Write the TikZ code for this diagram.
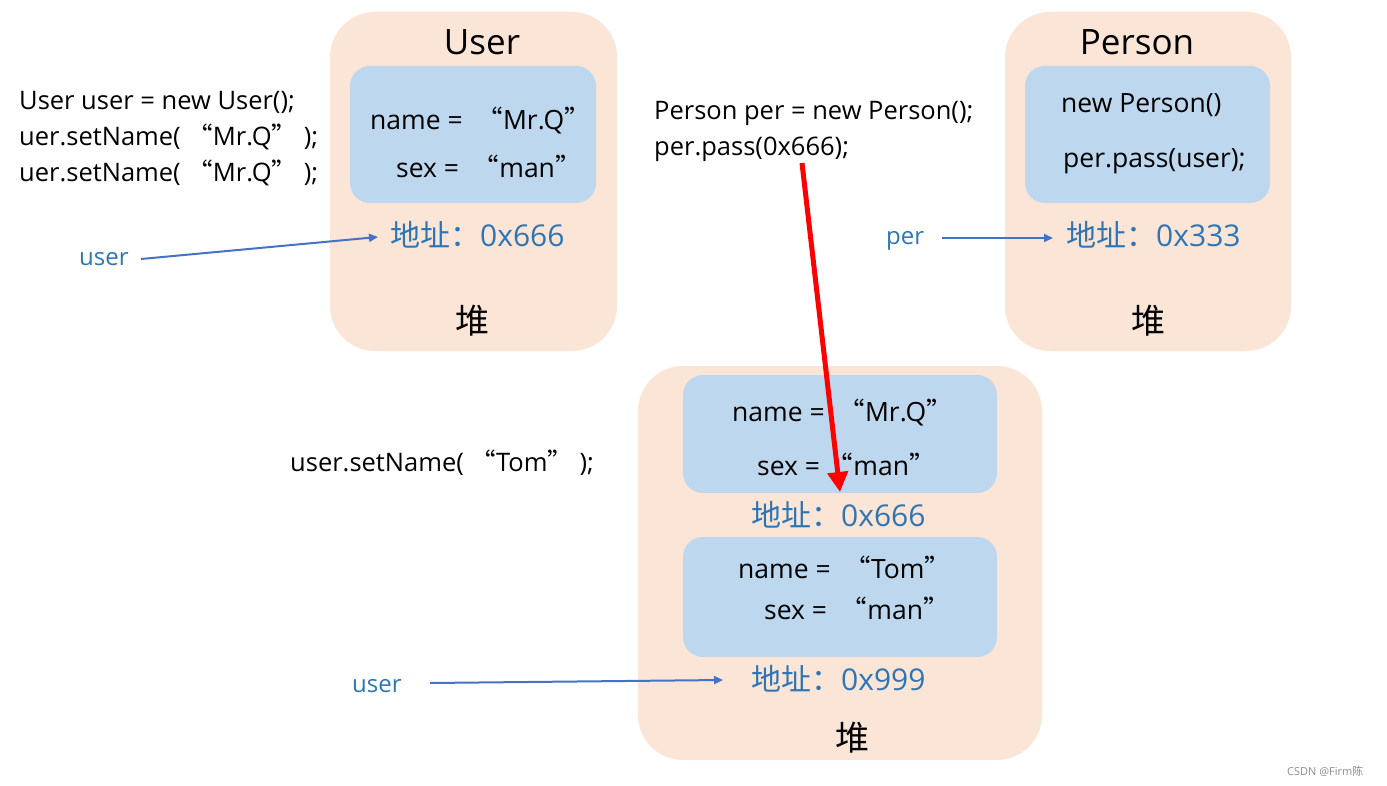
\documentclass[tikz,border=0pt]{standalone}
\usepackage{fontspec}
\setmainfont{Open Sans}
\newfontfamily\cjk{Noto Sans CJK SC}
\usetikzlibrary{arrows.meta}
\definecolor{peach}{HTML}{FBE5D6}
\definecolor{objblue}{HTML}{BDD7EE}
\definecolor{addrblue}{HTML}{2E75B6}
\definecolor{arrblue}{HTML}{4472C4}
\definecolor{wmgrey}{HTML}{8C8C8C}
\newcommand{\myqo}{{\cjk “}}
\newcommand{\myqc}{{\cjk ”}}
\begin{document}
\begin{tikzpicture}[x=1pt,y=-1pt,
  heap/.style={fill=peach, draw=none, rounded corners=45pt, inner sep=0pt},
  obj/.style={fill=objblue, draw=none, rounded corners=20pt, inner sep=0pt},
  code/.style={anchor=base west, inner sep=0pt, font=\fontsize{25.5}{30}\selectfont},
  field/.style={anchor=base west, inner sep=0pt, font=\fontsize{26.5}{32}\selectfont},
  title/.style={anchor=base, inner sep=0pt, font=\fontsize{35}{42}\selectfont},
  addr/.style={anchor=base west, inner sep=0pt, text=addrblue, font=\fontsize{30}{36}\selectfont},
  heaplbl/.style={anchor=base, inner sep=0pt, font=\cjk\fontsize{34}{40}\selectfont},
  var/.style={anchor=base west, inner sep=0pt, text=addrblue, font=\fontsize{24}{28}\selectfont},
  barrow/.style={draw=arrblue, line width=2pt, -{Triangle[length=9pt,width=8pt]}},
  rarrow/.style={draw=red, line width=5pt, -{Triangle[length=20pt,width=20pt]}}
]
\useasboundingbox (0,0) rectangle (1387,786);

% heaps
\node[heap, minimum width=287pt, minimum height=339pt] (uheap) at (473.5,181.5) {};
\node[heap, minimum width=286pt, minimum height=339pt] (pheap) at (1148,181.5) {};
\node[heap, minimum width=404pt, minimum height=394pt] (bheap) at (840,563) {};

% objects
\node[obj, minimum width=246pt, minimum height=137pt] (uobj) at (473,134.5) {};
\node[obj, minimum width=245pt, minimum height=137pt] (pobj) at (1147.5,134.5) {};
\node[obj, minimum width=314pt, minimum height=118pt] (bobj1) at (840,434) {};
\node[obj, minimum width=314pt, minimum height=120pt] (bobj2) at (840,597) {};

% User heap content
\node[title] (utitle) at (482,55) {User};
\node[field] (uname) at (370,130) {name =\ \ \myqo Mr.Q\myqc};
\node[field] (usex) at (396,178) {sex =\ \ \myqo man\myqc};
\node[addr] (uaddr) at (390,247) {{\cjk 地址：}0x666};
\node[heaplbl] (uheapl) at (472,334) {堆};

% Person heap content
\node[title] (ptitle) at (1137,55) {Person};
\node[field] (pnew) at (1061,113) {new Person()};
\node[field] (ppass) at (1063,168) {per.pass(user);};
\node[addr] (paddr) at (1066,247) {{\cjk 地址：}0x333};
\node[heaplbl] (pheapl) at (1148,334) {堆};

% bottom heap content
\node[field] (bname1) at (732,421) {name =\ \ \myqo Mr.Q\myqc};
\node[field] (bsex1) at (757,475) {sex =\ \myqo man\myqc};
\node[addr] (baddr1) at (751,526) {{\cjk 地址：}0x666};
\node[field] (bname2) at (738,578) {name =\ \ \myqo Tom\myqc};
\node[field] (bsex2) at (764,619) {sex =\ \ \myqo man\myqc};
\node[addr] (baddr2) at (751,690) {{\cjk 地址：}0x999};
\node[heaplbl] (bheapl) at (852,750) {堆};

% code
\node[code] (c1) at (19,110) {User user = new User();};
\node[code] (c2) at (19,146) {uer.setName( \myqo Mr.Q\myqc\ );};
\node[code] (c3) at (19,182) {uer.setName( \myqo Mr.Q\myqc\ );};
\node[code] (pc1) at (654,120) {Person per = new Person();};
\node[code] (pc2) at (654,156) {per.pass(0x666);};
\node[code] (tc) at (290,471) {user.setName( \myqo Tom\myqc\ );};

% variables
\node[var] (vuser1) at (79,266) {user};
\node[var] (vper) at (886,245) {per};
\node[var] (vuser2) at (352,692) {user};

% arrows
\coordinate (a1s) at (141,259);
\coordinate (a1e) at (378,237);
\coordinate (a2s) at (942,238);
\coordinate (a2e) at (1053,238);
\coordinate (a3s) at (430,683);
\coordinate (a3e) at (723,680);
\coordinate (rs) at (802,163);
\coordinate (re) at (840,492);
\draw[barrow] (a1s) -- (a1e);
\draw[barrow] (a2s) -- (a2e);
\draw[barrow] (a3s) -- (a3e);
\draw[rarrow] (rs) -- (re);

% watermark
\node[anchor=base west, inner sep=0pt, text=wmgrey, font=\fontsize{11}{13}\selectfont] (wm) at (1287,775) {CSDN @Firm{\cjk 陈}};
\end{tikzpicture}
\end{document}
